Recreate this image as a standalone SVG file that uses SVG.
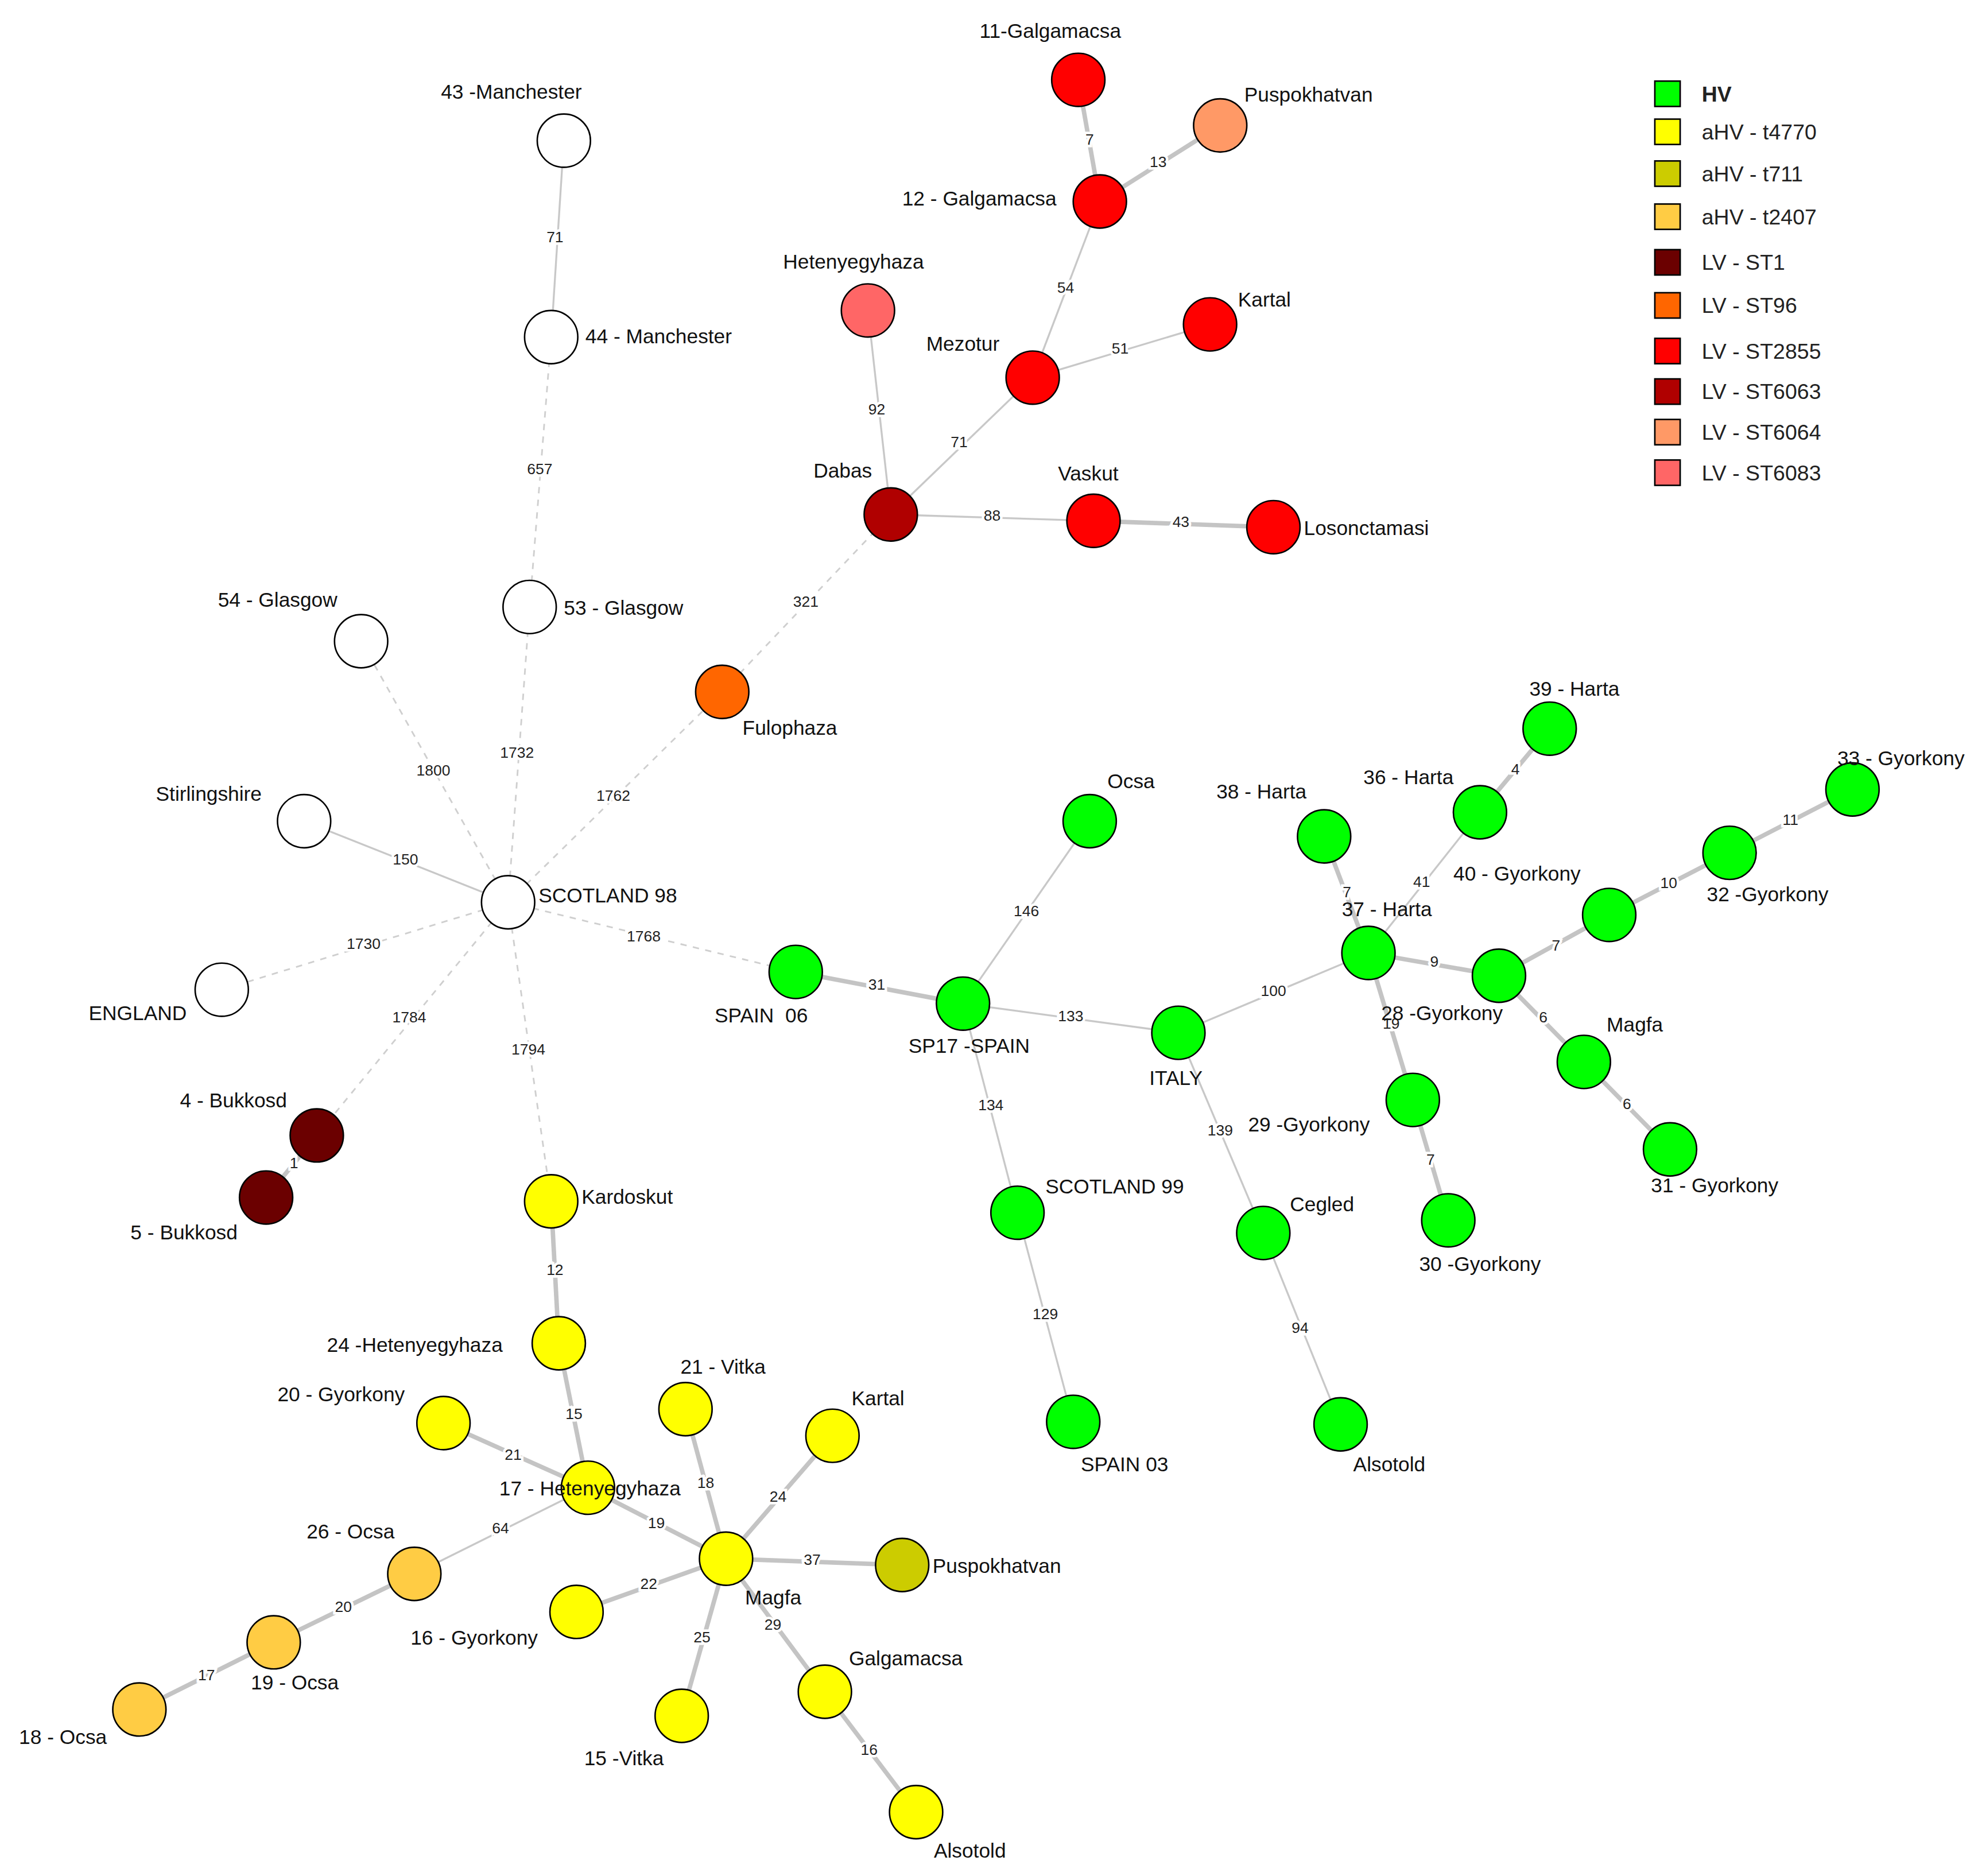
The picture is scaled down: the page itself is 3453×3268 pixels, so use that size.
<svg xmlns="http://www.w3.org/2000/svg" width="3453" height="3268" viewBox="0 0 3453 3268">
<style>
.n{stroke:#000;stroke-width:1.2}
.t{font-family:"Liberation Sans",Arial,sans-serif;font-size:16px;fill:#111}
.e{stroke:#c8c8c8;stroke-width:1.5;fill:none}
.d{stroke:#cfcfcf;stroke-width:1.3;stroke-dasharray:5,5;fill:none}
.k{stroke:#c4c4c4;stroke-width:3.5;fill:none}
.el{font-family:"Liberation Sans",Arial,sans-serif;font-size:12px;fill:#222;text-anchor:middle;stroke:#fff;stroke-width:4;paint-order:stroke}
.lg{font-family:"Liberation Sans",Arial,sans-serif;font-size:17px;fill:#222}
</style>
<rect width="3453" height="3268" fill="#fff"/>
<g transform="scale(2.2075)">
<g id="connectors">
<line class="d" x1="401" y1="712" x2="285" y2="506"/><text class="el" x="342" y="612">1800</text>
<line class="d" x1="401" y1="712" x2="418" y2="479"/><text class="el" x="408" y="598">1732</text>
<line class="d" x1="418" y1="479" x2="435" y2="266"/><text class="el" x="426" y="374">657</text>
<line class="d" x1="401" y1="712" x2="570" y2="546"/><text class="el" x="484" y="632">1762</text>
<line class="d" x1="570" y1="546" x2="703" y2="406"/><text class="el" x="636" y="479">321</text>
<line class="d" x1="401" y1="712" x2="175" y2="781"/><text class="el" x="287" y="749">1730</text>
<line class="d" x1="401" y1="712" x2="250" y2="896"/><text class="el" x="323" y="807">1784</text>
<line class="d" x1="401" y1="712" x2="435" y2="948"/><text class="el" x="417" y="832">1794</text>
<line class="d" x1="401" y1="712" x2="628" y2="767"/><text class="el" x="508" y="743">1768</text>
<line class="e" x1="445" y1="111" x2="435" y2="266"/><text class="el" x="438" y="191">71</text>
<line class="e" x1="401" y1="712" x2="240" y2="648"/><text class="el" x="320" y="682">150</text>
<line class="k" x1="250" y1="896" x2="210" y2="945" stroke="#888"/><text class="el" x="232" y="922">1</text>
<line class="e" x1="703" y1="406" x2="685" y2="245"/><text class="el" x="692" y="327">92</text>
<line class="e" x1="703" y1="406" x2="815" y2="298"/><text class="el" x="757" y="353">71</text>
<line class="e" x1="815" y1="298" x2="868" y2="159"/><text class="el" x="841" y="231">54</text>
<line class="k" x1="851" y1="63" x2="868" y2="159"/><text class="el" x="860" y="114">7</text>
<line class="k" x1="868" y1="159" x2="963" y2="99"/><text class="el" x="914" y="132">13</text>
<line class="e" x1="815" y1="298" x2="955" y2="256"/><text class="el" x="884" y="279">51</text>
<line class="e" x1="703" y1="406" x2="863" y2="411"/><text class="el" x="783" y="411">88</text>
<line class="k" x1="863" y1="411" x2="1005" y2="416"/><text class="el" x="932" y="416">43</text>
<line class="k" x1="628" y1="767" x2="760" y2="792"/><text class="el" x="692" y="781">31</text>
<line class="e" x1="760" y1="792" x2="860" y2="648"/><text class="el" x="810" y="723">146</text>
<line class="e" x1="760" y1="792" x2="930" y2="815"/><text class="el" x="845" y="806">133</text>
<line class="e" x1="760" y1="792" x2="803" y2="957"/><text class="el" x="782" y="876">134</text>
<line class="e" x1="803" y1="957" x2="847" y2="1122"/><text class="el" x="825" y="1041">129</text>
<line class="e" x1="930" y1="815" x2="997" y2="973"/><text class="el" x="963" y="896">139</text>
<line class="e" x1="997" y1="973" x2="1058" y2="1124"/><text class="el" x="1026" y="1052">94</text>
<line class="e" x1="930" y1="815" x2="1080" y2="752"/><text class="el" x="1005" y="786">100</text>
<line class="k" x1="1080" y1="752" x2="1045" y2="660"/><text class="el" x="1063" y="708">7</text>
<line class="e" x1="1080" y1="752" x2="1168" y2="641"/><text class="el" x="1122" y="700">41</text>
<line class="k" x1="1168" y1="641" x2="1223" y2="575" stroke="#999"/><text class="el" x="1196" y="611">4</text>
<line class="k" x1="1080" y1="752" x2="1183" y2="770"/><text class="el" x="1132" y="763">9</text>
<line class="k" x1="1183" y1="770" x2="1270" y2="722"/><text class="el" x="1228" y="750">7</text>
<line class="k" x1="1270" y1="722" x2="1365" y2="673"/><text class="el" x="1317" y="701">10</text>
<line class="k" x1="1365" y1="673" x2="1462" y2="623"/><text class="el" x="1413" y="651">11</text>
<line class="k" x1="1183" y1="770" x2="1250" y2="838"/><text class="el" x="1218" y="807">6</text>
<line class="k" x1="1250" y1="838" x2="1318" y2="907"/><text class="el" x="1284" y="875">6</text>
<line class="k" x1="1080" y1="752" x2="1115" y2="868"/><text class="el" x="1098" y="812">19</text>
<line class="k" x1="1115" y1="868" x2="1143" y2="963"/><text class="el" x="1129" y="919">7</text>
<line class="k" x1="435" y1="948" x2="441" y2="1060"/><text class="el" x="438" y="1006">12</text>
<line class="k" x1="441" y1="1060" x2="464" y2="1174"/><text class="el" x="453" y="1120">15</text>
<line class="k" x1="464" y1="1174" x2="350" y2="1123"/><text class="el" x="405" y="1152">21</text>
<line class="k" x1="464" y1="1174" x2="573" y2="1230"/><text class="el" x="518" y="1206">19</text>
<line class="e" x1="464" y1="1174" x2="327" y2="1242"/><text class="el" x="395" y="1210">64</text>
<line class="k" x1="327" y1="1242" x2="216" y2="1296"/><text class="el" x="271" y="1272">20</text>
<line class="k" x1="216" y1="1296" x2="110" y2="1349"/><text class="el" x="163" y="1326">17</text>
<line class="k" x1="573" y1="1230" x2="541" y2="1112"/><text class="el" x="557" y="1174">18</text>
<line class="k" x1="573" y1="1230" x2="657" y2="1133"/><text class="el" x="614" y="1185">24</text>
<line class="k" x1="573" y1="1230" x2="712" y2="1235"/><text class="el" x="641" y="1235">37</text>
<line class="k" x1="573" y1="1230" x2="455" y2="1272"/><text class="el" x="512" y="1254">22</text>
<line class="k" x1="573" y1="1230" x2="538" y2="1354"/><text class="el" x="554" y="1296">25</text>
<line class="k" x1="573" y1="1230" x2="651" y2="1335"/><text class="el" x="610" y="1286">29</text>
<line class="k" x1="651" y1="1335" x2="723" y2="1430"/><text class="el" x="686" y="1385">16</text>
</g>
<g id="n-m43"><circle class="n" cx="445" cy="111" r="21" fill="#fff"/><text class="t" x="348" y="78">43 -Manchester</text></g>
<g id="n-m44"><circle class="n" cx="435" cy="266" r="21" fill="#fff"/><text class="t" x="462" y="271">44 - Manchester</text></g>
<g id="n-g53"><circle class="n" cx="418" cy="479" r="21" fill="#fff"/><text class="t" x="445" y="485">53 - Glasgow</text></g>
<g id="n-g54"><circle class="n" cx="285" cy="506" r="21" fill="#fff"/><text class="t" x="172" y="479">54 - Glasgow</text></g>
<g id="n-stir"><circle class="n" cx="240" cy="648" r="21" fill="#fff"/><text class="t" x="123" y="632">Stirlingshire</text></g>
<g id="n-s98"><circle class="n" cx="401" cy="712" r="21" fill="#fff"/><text class="t" x="425" y="712">SCOTLAND 98</text></g>
<g id="n-eng"><circle class="n" cx="175" cy="781" r="21" fill="#fff"/><text class="t" x="70" y="805">ENGLAND</text></g>
<g id="n-b4"><circle class="n" cx="250" cy="896" r="21" fill="#6b0000"/><text class="t" x="142" y="874">4 - Bukkosd</text></g>
<g id="n-b5"><circle class="n" cx="210" cy="945" r="21" fill="#6b0000"/><text class="t" x="103" y="978">5 - Bukkosd</text></g>
<g id="n-dabas"><circle class="n" cx="703" cy="406" r="21" fill="#b00000"/><text class="t" x="642" y="377">Dabas</text></g>
<g id="n-ful"><circle class="n" cx="570" cy="546" r="21" fill="#ff6600"/><text class="t" x="586" y="580">Fulophaza</text></g>
<g id="n-het"><circle class="n" cx="685" cy="245" r="21" fill="#ff6666"/><text class="t" x="618" y="212">Hetenyegyhaza</text></g>
<g id="n-pusp1"><circle class="n" cx="963" cy="99" r="21" fill="#ff9966"/><text class="t" x="982" y="80">Puspokhatvan</text></g>
<g id="n-g11"><circle class="n" cx="851" cy="63" r="21" fill="#ff0000"/><text class="t" x="773" y="30">11-Galgamacsa</text></g>
<g id="n-g12"><circle class="n" cx="868" cy="159" r="21" fill="#ff0000"/><text class="t" x="712" y="162">12 - Galgamacsa</text></g>
<g id="n-mez"><circle class="n" cx="815" cy="298" r="21" fill="#ff0000"/><text class="t" x="731" y="277">Mezotur</text></g>
<g id="n-kartal1"><circle class="n" cx="955" cy="256" r="21" fill="#ff0000"/><text class="t" x="977" y="242">Kartal</text></g>
<g id="n-vaskut"><circle class="n" cx="863" cy="411" r="21" fill="#ff0000"/><text class="t" x="835" y="379">Vaskut</text></g>
<g id="n-los"><circle class="n" cx="1005" cy="416" r="21" fill="#ff0000"/><text class="t" x="1029" y="422">Losonctamasi</text></g>
<g id="n-sp06"><circle class="n" cx="628" cy="767" r="21" fill="#00ff00"/><text class="t" x="564" y="807" xml:space="preserve">SPAIN  06</text></g>
<g id="n-sp17"><circle class="n" cx="760" cy="792" r="21" fill="#00ff00"/><text class="t" x="717" y="831">SP17 -SPAIN</text></g>
<g id="n-ocsa1"><circle class="n" cx="860" cy="648" r="21" fill="#00ff00"/><text class="t" x="874" y="622">Ocsa</text></g>
<g id="n-italy"><circle class="n" cx="930" cy="815" r="21" fill="#00ff00"/><text class="t" x="907" y="856">ITALY</text></g>
<g id="n-s99"><circle class="n" cx="803" cy="957" r="21" fill="#00ff00"/><text class="t" x="825" y="942">SCOTLAND 99</text></g>
<g id="n-sp03"><circle class="n" cx="847" cy="1122" r="21" fill="#00ff00"/><text class="t" x="853" y="1161">SPAIN 03</text></g>
<g id="n-cegled"><circle class="n" cx="997" cy="973" r="21" fill="#00ff00"/><text class="t" x="1018" y="956">Cegled</text></g>
<g id="n-als1"><circle class="n" cx="1058" cy="1124" r="21" fill="#00ff00"/><text class="t" x="1068" y="1161">Alsotold</text></g>
<g id="n-h37"><circle class="n" cx="1080" cy="752" r="21" fill="#00ff00"/><text class="t" x="1059" y="723">37 - Harta</text></g>
<g id="n-h38"><circle class="n" cx="1045" cy="660" r="21" fill="#00ff00"/><text class="t" x="960" y="630">38 - Harta</text></g>
<g id="n-h36"><circle class="n" cx="1168" cy="641" r="21" fill="#00ff00"/><text class="t" x="1076" y="619">36 - Harta</text></g>
<g id="n-h39"><circle class="n" cx="1223" cy="575" r="21" fill="#00ff00"/><text class="t" x="1207" y="549">39 - Harta</text></g>
<g id="n-gy28"><circle class="n" cx="1183" cy="770" r="21" fill="#00ff00"/><text class="t" x="1090" y="805">28 -Gyorkony</text></g>
<g id="n-gy40"><circle class="n" cx="1270" cy="722" r="21" fill="#00ff00"/><text class="t" x="1147" y="695">40 - Gyorkony</text></g>
<g id="n-gy32"><circle class="n" cx="1365" cy="673" r="21" fill="#00ff00"/><text class="t" x="1347" y="711">32 -Gyorkony</text></g>
<g id="n-gy33"><circle class="n" cx="1462" cy="623" r="21" fill="#00ff00"/><text class="t" x="1450" y="604">33 - Gyorkony</text></g>
<g id="n-magfa1"><circle class="n" cx="1250" cy="838" r="21" fill="#00ff00"/><text class="t" x="1268" y="814">Magfa</text></g>
<g id="n-gy31"><circle class="n" cx="1318" cy="907" r="21" fill="#00ff00"/><text class="t" x="1303" y="941">31 - Gyorkony</text></g>
<g id="n-gy29"><circle class="n" cx="1115" cy="868" r="21" fill="#00ff00"/><text class="t" x="985" y="893">29 -Gyorkony</text></g>
<g id="n-gy30"><circle class="n" cx="1143" cy="963" r="21" fill="#00ff00"/><text class="t" x="1120" y="1003">30 -Gyorkony</text></g>
<g id="n-kard"><circle class="n" cx="435" cy="948" r="21" fill="#ffff00"/><text class="t" x="459" y="950">Kardoskut</text></g>
<g id="n-h24"><circle class="n" cx="441" cy="1060" r="21" fill="#ffff00"/><text class="t" x="258" y="1067">24 -Hetenyegyhaza</text></g>
<g id="n-gy20"><circle class="n" cx="350" cy="1123" r="21" fill="#ffff00"/><text class="t" x="219" y="1106">20 - Gyorkony</text></g>
<g id="n-v21"><circle class="n" cx="541" cy="1112" r="21" fill="#ffff00"/><text class="t" x="537" y="1084">21 - Vitka</text></g>
<g id="n-kartal2"><circle class="n" cx="657" cy="1133" r="21" fill="#ffff00"/><text class="t" x="672" y="1109">Kartal</text></g>
<g id="n-h17"><circle class="n" cx="464" cy="1174" r="21" fill="#ffff00"/><text class="t" x="394" y="1180">17 - Hetenyegyhaza</text></g>
<g id="n-magfa2"><circle class="n" cx="573" cy="1230" r="21" fill="#ffff00"/><text class="t" x="588" y="1266">Magfa</text></g>
<g id="n-gy16"><circle class="n" cx="455" cy="1272" r="21" fill="#ffff00"/><text class="t" x="324" y="1298">16 - Gyorkony</text></g>
<g id="n-v15"><circle class="n" cx="538" cy="1354" r="21" fill="#ffff00"/><text class="t" x="461" y="1393">15 -Vitka</text></g>
<g id="n-galg"><circle class="n" cx="651" cy="1335" r="21" fill="#ffff00"/><text class="t" x="670" y="1314">Galgamacsa</text></g>
<g id="n-als2"><circle class="n" cx="723" cy="1430" r="21" fill="#ffff00"/><text class="t" x="737" y="1466">Alsotold</text></g>
<g id="n-pusp2"><circle class="n" cx="712" cy="1235" r="21" fill="#cccc00"/><text class="t" x="736" y="1241">Puspokhatvan</text></g>
<g id="n-o26"><circle class="n" cx="327" cy="1242" r="21" fill="#ffcc44"/><text class="t" x="242" y="1214">26 - Ocsa</text></g>
<g id="n-o19"><circle class="n" cx="216" cy="1296" r="21" fill="#ffcc44"/><text class="t" x="198" y="1333">19 - Ocsa</text></g>
<g id="n-o18"><circle class="n" cx="110" cy="1349" r="21" fill="#ffcc44"/><text class="t" x="15" y="1376">18 - Ocsa</text></g>
<g id="legend">
<rect class="n" x="1306" y="64" width="20" height="20" fill="#00ff00"/><text class="lg" x="1343" y="80" font-weight="bold">HV</text>
<rect class="n" x="1306" y="94" width="20" height="20" fill="#ffff00"/><text class="lg" x="1343" y="110">aHV  - t4770</text>
<rect class="n" x="1306" y="127" width="20" height="20" fill="#cccc00"/><text class="lg" x="1343" y="143">aHV  - t711</text>
<rect class="n" x="1306" y="161" width="20" height="20" fill="#ffcc44"/><text class="lg" x="1343" y="177">aHV  - t2407</text>
<rect class="n" x="1306" y="197" width="20" height="20" fill="#6b0000"/><text class="lg" x="1343" y="213">LV  - ST1</text>
<rect class="n" x="1306" y="231" width="20" height="20" fill="#ff6600"/><text class="lg" x="1343" y="247">LV  - ST96</text>
<rect class="n" x="1306" y="267" width="20" height="20" fill="#ff0000"/><text class="lg" x="1343" y="283">LV - ST2855</text>
<rect class="n" x="1306" y="299" width="20" height="20" fill="#b00000"/><text class="lg" x="1343" y="315">LV - ST6063</text>
<rect class="n" x="1306" y="331" width="20" height="20" fill="#ff9966"/><text class="lg" x="1343" y="347">LV - ST6064</text>
<rect class="n" x="1306" y="363" width="20" height="20" fill="#ff6666"/><text class="lg" x="1343" y="379">LV - ST6083</text>
</g>
</g>
</svg>
